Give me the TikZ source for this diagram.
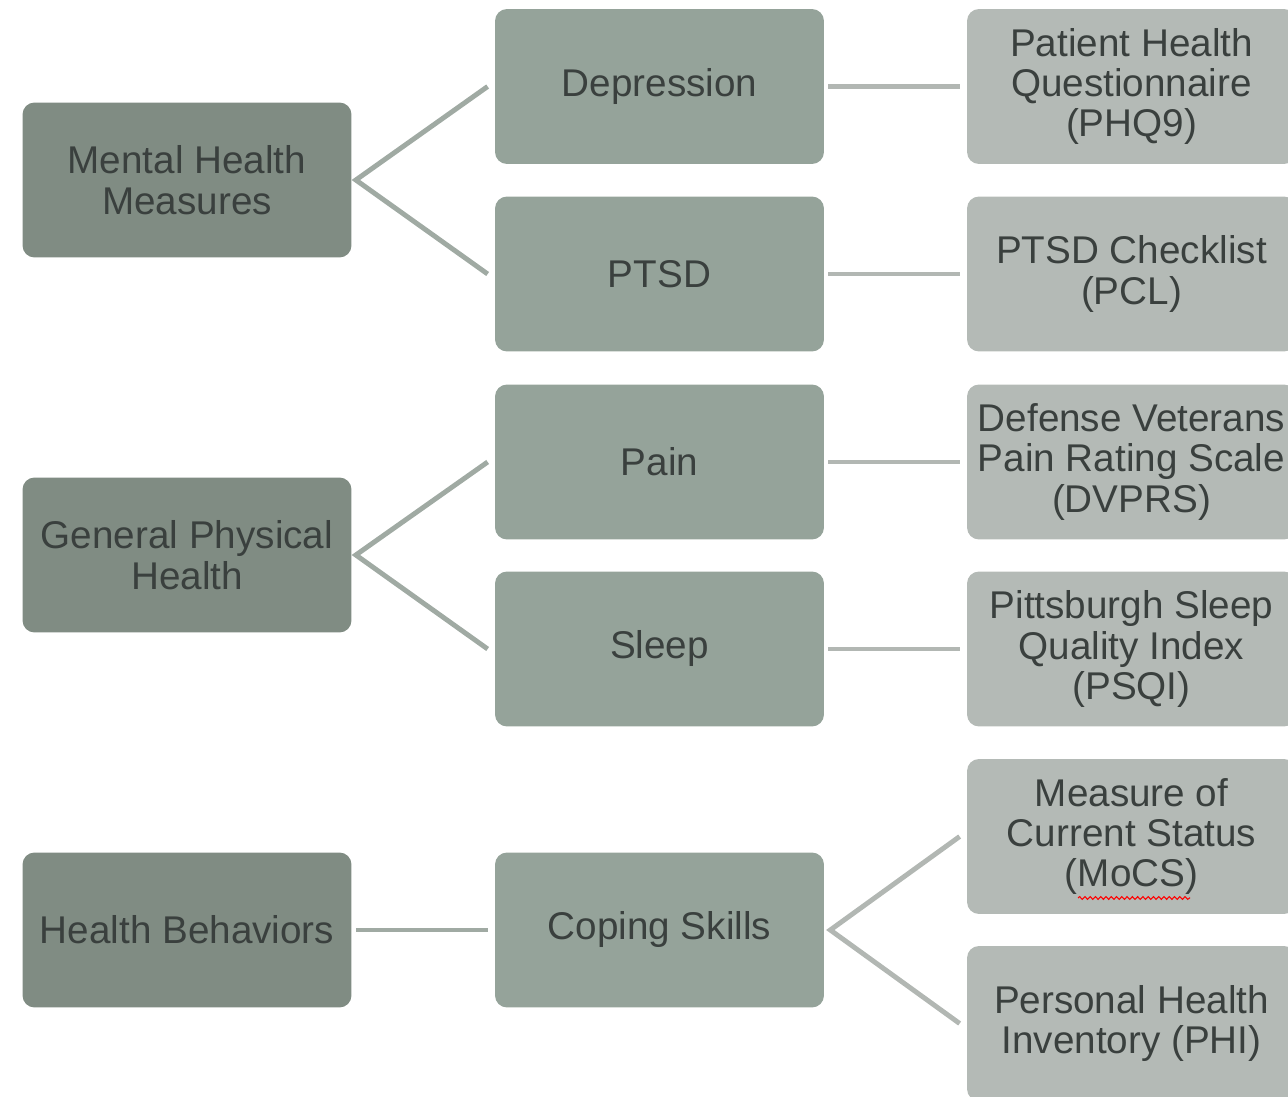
\documentclass[tikz,border=0pt]{standalone}
\usepackage{fontspec}
\setmainfont{Liberation Sans}
\usetikzlibrary{decorations.pathmorphing}

\definecolor{darkbox}{HTML}{808C83}
\definecolor{midbox}{HTML}{95A39A}
\definecolor{lightbox}{HTML}{B4BAB6}
\definecolor{forkline}{HTML}{A0AAA3}
\definecolor{barline}{HTML}{B2B7B3}
\definecolor{labeltext}{HTML}{3A403E}

\tikzset{
  box/.style={rectangle, rounded corners=0.24cm, minimum width=6.58cm, minimum height=3.1cm,
    align=center, text=labeltext, inner sep=0pt},
  measurebox/.style={box, fill=darkbox},
  areabox/.style={box, fill=midbox},
  toolbox/.style={box, fill=lightbox},
  forkline/.style={draw=forkline, line width=2.8pt},
  barline/.style={draw=barline, line width=2.8pt}
}

\begin{document}
\begin{tikzpicture}[x=0.02cm, y=-0.02cm, font=\fontsize{22}{23}\selectfont]

\useasboundingbox (0, 0) rectangle (1288, 1097);
\clip (0, 0) rectangle (1288, 1097);

% measures
\node[measurebox] (mental) at (187, 180) {Mental Health\\Measures};
\node[measurebox] (physical) at (187, 555) {General Physical\\Health};
\node[measurebox] (behav) at (187, 930) {Health Behaviors};

% areas
\node[areabox] (depr) at (659.5, 86.5) {Depression};
\node[areabox] (ptsd) at (659.5, 274) {PTSD};
\node[areabox] (pain) at (659.5, 462) {Pain};
\node[areabox] (sleep) at (659.5, 649) {Sleep};
\node[areabox] (coping) at (659.5, 930) {Coping Skills};

% instruments
\node[toolbox] (phq) at (1131.5, 86.5) {Patient Health\\Questionnaire\\(PHQ9)};
\node[toolbox] (pcl) at (1131.5, 274) {PTSD Checklist\\(PCL)};
\node[toolbox] (dvprs) at (1131.5, 462) {Defense Veterans\\Pain Rating Scale\\(DVPRS)};
\node[toolbox] (psqi) at (1131.5, 649) {Pittsburgh Sleep\\Quality Index\\(PSQI)};
\node[toolbox] (mocs) at (1131.5, 836.5) {Measure of\\Current Status\\(MoCS)};
\node[toolbox] (phi) at (1131.5, 1023.5) {Personal Health\\Inventory (PHI)};

% forks
\draw[forkline] ([xshift=-4pt]depr.west)--([xshift=2.3pt]mental.east)--([xshift=-4pt]ptsd.west);
\draw[forkline] ([xshift=-4pt]pain.west)--([xshift=2.3pt]physical.east)--([xshift=-4pt]sleep.west);
\draw[forkline] ([xshift=2.3pt]behav.east)--([xshift=-4pt]coping.west);
\draw[barline] ([xshift=-4pt]mocs.west)--([xshift=3.4pt]coping.east)--([xshift=-4pt]phi.west);

% bars
\draw[barline] ([xshift=2.3pt]depr.east)--([xshift=-4pt]phq.west);
\draw[barline] ([xshift=2.3pt]ptsd.east)--([xshift=-4pt]pcl.west);
\draw[barline] ([xshift=2.3pt]pain.east)--([xshift=-4pt]dvprs.west);
\draw[barline] ([xshift=2.3pt]sleep.east)--([xshift=-4pt]psqi.west);

% spell mark
\draw[red, line width=0.6pt, decorate, decoration={snake, segment length=3pt, amplitude=0.8pt}]
  (1078, 898)--(1190, 898);

\end{tikzpicture}
\end{document}
